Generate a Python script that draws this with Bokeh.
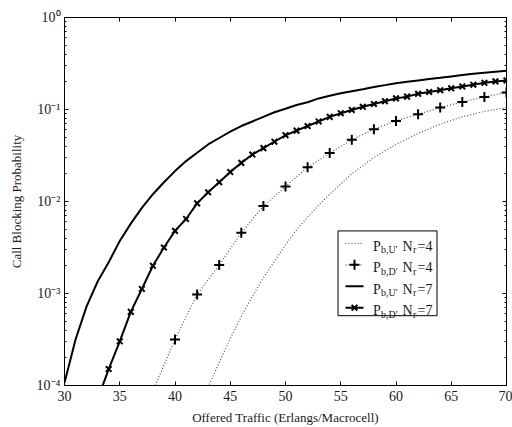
from bokeh.plotting import figure
from bokeh.models import (Range1d, LinearScale, LogAxis, LinearAxis, FixedTicker,
                          CustomJSTickFormatter, ColumnDataSource)
from bokeh.core.properties import value
from bokeh.embed import file_html
from bokeh.resources import INLINE

# ---------------- data ----------------
# P_b,U', N_r=7  (solid line)
traffic_u7 = list(range(30, 71))
pb_u7 = [1.07e-4, 3.16e-4, 7.24e-4, 1.35e-3, 2.19e-3, 3.72e-3, 5.75e-3, 8.51e-3,
         1.20e-2, 1.62e-2, 2.14e-2, 2.75e-2, 3.39e-2, 4.17e-2, 4.90e-2, 5.75e-2,
         6.61e-2, 7.41e-2, 8.32e-2, 9.33e-2, 0.102, 0.112, 0.120, 0.132, 0.141,
         0.150, 0.158, 0.166, 0.176, 0.184, 0.193, 0.200, 0.207, 0.214, 0.221,
         0.229, 0.237, 0.245, 0.251, 0.257, 0.263]

# P_b,D', N_r=7  (solid line with x markers)
traffic_d7 = list(range(33, 71))
pb_d7 = [7.08e-5, 1.51e-4, 3.02e-4, 6.31e-4, 1.12e-3, 2.00e-3, 3.16e-3, 4.79e-3,
         6.46e-3, 9.55e-3, 1.26e-2, 1.62e-2, 2.09e-2, 2.63e-2, 3.24e-2, 3.80e-2,
         4.47e-2, 5.25e-2, 5.89e-2, 6.61e-2, 7.41e-2, 8.32e-2, 9.12e-2, 9.89e-2,
         0.107, 0.115, 0.123, 0.132, 0.138, 0.148, 0.155, 0.162, 0.170, 0.178,
         0.186, 0.195, 0.202, 0.207]

# P_b,D', N_r=4  (dotted line with + markers)
traffic_d4 = [38, 40, 42, 44, 46, 48, 50, 52, 54, 56, 58, 60, 62, 64, 66, 68, 70]
pb_d4 = [8.71e-5, 3.16e-4, 9.77e-4, 2.04e-3, 4.57e-3, 8.91e-3, 1.46e-2, 2.35e-2,
         3.36e-2, 4.68e-2, 6.11e-2, 7.52e-2, 8.87e-2, 0.105, 0.121, 0.137, 0.153]

# P_b,U', N_r=4  (dotted line)
traffic_u4 = list(range(43, 71))
pb_u4 = [9.55e-5, 1.78e-4, 3.24e-4, 5.62e-4, 9.33e-4, 1.48e-3, 2.24e-3, 3.39e-3,
         4.90e-3, 6.76e-3, 9.12e-3, 1.20e-2, 1.55e-2, 2.00e-2, 2.45e-2, 3.02e-2,
         3.55e-2, 4.17e-2, 4.79e-2, 5.50e-2, 6.17e-2, 6.92e-2, 7.59e-2, 8.32e-2,
         8.91e-2, 9.55e-2, 0.100, 0.105]

x_ticks = [30, 35, 40, 45, 50, 55, 60, 65, 70]
y_ticks = [1e-4, 1e-3, 1e-2, 1e-1, 1.0]

x_label = "Offered Traffic (Erlangs/Macrocell)"
y_label = "Call Blocking Probability"

leg_sub = ["b,U'", "b,D'", "b,U'", "b,D'"]
leg_n = ["=4", "=4", "=7", "=7"]

# ---------------- figure ----------------
FONT = "Liberation Serif"
INK = "#1a1a1a"

p = figure(width=512, height=427,
           x_range=Range1d(30, 70), y_range=Range1d(1e-4, 1.0), y_axis_type="log",
           output_backend="svg", toolbar_location=None,
           min_border_left=64, min_border_right=6, min_border_top=17, min_border_bottom=41)
p.grid.visible = False
p.outline_line_color = "black"
p.background_fill_color = "white"
p.border_fill_color = "white"

minor_y = [m * t for t in y_ticks[:-1] for m in range(2, 10)]

sup_js = """
const sup = {"0":"\\u2070","1":"\\u00b9","2":"\\u00b2","3":"\\u00b3","4":"\\u2074",
             "5":"\\u2075","6":"\\u2076","7":"\\u2077","8":"\\u2078","9":"\\u2079","-":"\\u207b"};
const e = Math.round(Math.log10(tick));
return "10" + String(e).split("").map(c => sup[c]).join("");
"""

xa = p.xaxis[0]
xa.ticker = FixedTicker(ticks=x_ticks, minor_ticks=[])
ya = p.yaxis[0]
ya.ticker = FixedTicker(ticks=y_ticks, minor_ticks=minor_y)
ya.formatter = CustomJSTickFormatter(code=sup_js)

for ax in (xa, ya):
    ax.axis_line_color = "black"
    ax.major_tick_line_color = "black"
    ax.minor_tick_line_color = "black"
    ax.major_tick_in = 4
    ax.major_tick_out = 0
    ax.minor_tick_in = 2
    ax.minor_tick_out = 0
    ax.major_label_text_font = FONT
    ax.major_label_text_font_size = "14px"
    ax.major_label_text_color = INK
    ax.axis_label_text_font = FONT
    ax.axis_label_text_font_size = "13px"
    ax.axis_label_text_font_style = "normal"
    ax.axis_label_text_color = INK

xa.axis_label = x_label
ya.axis_label = y_label
xa.major_label_standoff = 5
xa.axis_label_standoff = 6
ya.major_label_standoff = 4
ya.axis_label_standoff = 10

top = LinearAxis(ticker=FixedTicker(ticks=x_ticks, minor_ticks=[]),
                 formatter=CustomJSTickFormatter(code="return ''"),
                 major_label_text_font_size="0px", major_label_standoff=0,
                 major_tick_in=4, major_tick_out=0, axis_line_color="black")
p.add_layout(top, "above")
right = LogAxis(ticker=FixedTicker(ticks=y_ticks, minor_ticks=minor_y),
                formatter=CustomJSTickFormatter(code="return ''"),
                major_label_text_font_size="0px", major_label_standoff=0,
                major_tick_in=4, major_tick_out=0, minor_tick_in=2, minor_tick_out=0,
                axis_line_color="black")
p.add_layout(right, "right")

# ---------------- series ----------------
p.line(traffic_u4, pb_u4, line_color="#555555", line_width=1.2, line_dash="1 2")
p.line(traffic_d4, pb_d4, line_color="#555555", line_width=1.2, line_dash="1 2")
p.scatter(traffic_d4[1:], pb_d4[1:], marker="cross", size=10, line_width=2,
          line_color="black")
p.line(traffic_u7, pb_u7, line_color="black", line_width=2)
p.line(traffic_d7, pb_d7, line_color="black", line_width=2)
p.scatter(traffic_d7[1:], pb_d7[1:], marker="x", size=8, line_width=2,
          line_color="black")

# ---------------- legend (frame pixel coordinates) ----------------
p.extra_x_ranges = {"px": Range1d(0, 442)}
p.extra_y_ranges = {"px": Range1d(369, 0)}
p.extra_x_scales = {"px": LinearScale()}
p.extra_y_scales = {"px": LinearScale()}
L = dict(x_range_name="px", y_range_name="px")

p.quad(left=[273.5], right=[372.5], top=[214], bottom=[299],
       fill_color="white", line_color="black", line_width=1, **L)

base = [229.5, 251.0, 272.5, 294.0]
samp = [b - 3 for b in base]
# sample 1: dotted
p.segment(x0=[281], y0=[samp[0]], x1=[299], y1=[samp[0]], line_color="#555555",
          line_width=1.2, line_dash="1 2", **L)
# sample 2: dotted + cross
p.segment(x0=[281], y0=[samp[1]], x1=[299], y1=[samp[1]], line_color="#555555",
          line_width=1.2, line_dash="1 2", **L)
p.scatter(x=[290], y=[samp[1]], marker="cross", size=10, line_width=2,
          line_color="black", **L)
# sample 3: solid
p.segment(x0=[281], y0=[samp[2]], x1=[299], y1=[samp[2]], line_color="black",
          line_width=2, **L)
# sample 4: solid + x
p.segment(x0=[281], y0=[samp[3]], x1=[299], y1=[samp[3]], line_color="black",
          line_width=2, **L)
p.scatter(x=[290], y=[samp[3]], marker="x", size=8, line_width=2,
          line_color="black", **L)

main_x, main_y, main_t = [], [], []
sub_x, sub_y, sub_t = [], [], []
for i in range(4):
    b = base[i]
    for xx, tt in ((308.5, "P"), (338.0, "N"), (353.0, leg_n[i])):
        main_x.append(xx); main_y.append(b); main_t.append(tt)
    for xx, tt in ((316.5, leg_sub[i]), (348.5, "r")):
        sub_x.append(xx); sub_y.append(b + 3.5); sub_t.append(tt)

p.text(x="x", y="y", text="t", source=ColumnDataSource(dict(x=main_x, y=main_y, t=main_t)),
       text_font=value(FONT), text_font_size="14px", text_color=INK,
       text_baseline="alphabetic", text_align="left", **L)
p.text(x="x", y="y", text="t", source=ColumnDataSource(dict(x=sub_x, y=sub_y, t=sub_t)),
       text_font=value(FONT), text_font_size="10px", text_color=INK,
       text_baseline="alphabetic", text_align="left", **L)

with open("out.html", "w", encoding="utf-8") as f:
    f.write(file_html(p, INLINE))
